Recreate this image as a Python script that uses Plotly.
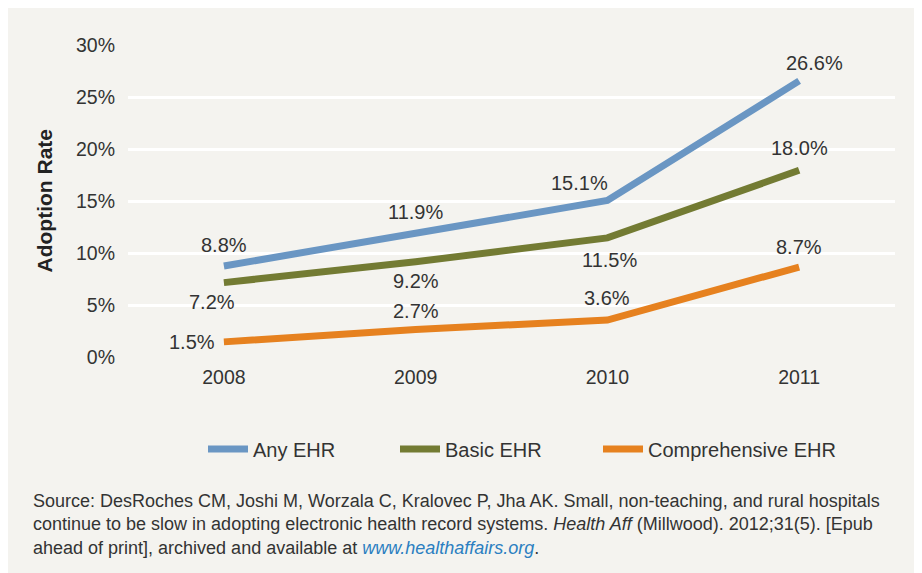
import plotly.graph_objects as go

years = ["2008", "2009", "2010", "2011"]
any_ehr = [8.8, 11.9, 15.1, 26.6]
basic_ehr = [7.2, 9.2, 11.5, 18.0]
comp_ehr = [1.5, 2.7, 3.6, 8.7]
series_names = ["Any EHR", "Basic EHR", "Comprehensive EHR"]
y_ticks = [0, 5, 10, 15, 20, 25, 30]
y_tick_labels = ["0%", "5%", "10%", "15%", "20%", "25%", "30%"]

colors = ["#6a96c3", "#737b33", "#e6811f"]
# label offsets (dx, dy) in px for each series/point (dy positive = down)
offsets = [
    [(0, -21), (0, -22), (-28, -17), (15, -18)],
    [(-12, 19), (0, 19), (2, 22), (0, -22)],
    [(-32, 0), (0, -18), (0, -22), (0, -20)],
]
legend_left = [208, 400, 603]  # reference px of legend symbols

# page body has an 8px margin; figure is drawn from (8, 8)
W, H = 914, 565
L, R, T, B = 120, 27, 37, 215
FONT = "Liberation Sans, Arial, sans-serif"
pw = W - L - R
ph = H - T - B


def py(ref_y):
    """reference pixel y -> paper y"""
    return (H - B - (ref_y - 8)) / ph


def px(ref_x):
    return ((ref_x - 8) - L) / pw


fig = go.Figure()
legend_ids = ["legend", "legend2", "legend3"]
for name, vals, col, lid in zip(series_names, [any_ehr, basic_ehr, comp_ehr], colors, legend_ids):
    fig.add_trace(go.Scatter(x=years, y=vals, name=name, mode="lines", legend=lid,
                             line=dict(color=col, width=7), hoverinfo="skip"))

annotations = []
for vals, offs in zip([any_ehr, basic_ehr, comp_ehr], offsets):
    for i, (v, (dx, dy)) in enumerate(zip(vals, offs)):
        annotations.append(dict(x=i, y=v, xref="x", yref="y", text=f"{v:.1f}%",
                                showarrow=False, xshift=dx, yshift=-dy,
                                font=dict(size=20, color="#333333", family=FONT)))

source = ("Source: DesRoches CM, Joshi M, Worzala C, Kralovec P, Jha AK. Small, non-teaching, and rural hospitals<br>"
          "continue to be slow in adopting electronic health record systems. <i>Health Aff</i> (Millwood). 2012;31(5). [Epub<br>"
          "ahead of print], archived and available at <i><span style='color:#2b7fc1'>www.healthaffairs.org</span></i>.")
annotations.append(dict(x=px(31), y=py(489), xref="paper", yref="paper",
                        xanchor="left", yanchor="top", align="left", showarrow=False,
                        text=source, font=dict(size=18, color="#333333", family=FONT)))
annotations.append(dict(x=px(44), y=0.5, xref="paper", yref="paper", textangle=-90,
                        xanchor="center", yanchor="middle",
                        showarrow=False, text="<b>Adoption Rate</b>",
                        font=dict(size=21, color="#222222", family=FONT)))

legend_common = dict(orientation="h", xanchor="left", y=py(449), yanchor="middle",
                     font=dict(size=20, color="#333333"), bgcolor="rgba(0,0,0,0)",
                     itemwidth=40)

fig.update_layout(
    width=W, height=H,
    margin=dict(l=L, r=R, t=T, b=B),
    paper_bgcolor="#f4f3ef", plot_bgcolor="#f4f3ef",
    font=dict(family=FONT, color="#333333", size=19),
    xaxis=dict(type="category", range=[-0.5, 3.5], showgrid=False, zeroline=False,
               showline=False, ticks="", tickfont=dict(size=19.5), ticklabelstandoff=5),
    yaxis=dict(range=[-0.05, 30.05], tickvals=y_ticks, ticktext=y_tick_labels,
               showgrid=True, gridcolor="#ffffff", gridwidth=3, zeroline=False,
               showline=False, ticks="", tickfont=dict(size=19.5), ticklabelstandoff=12),
    showlegend=True,
    legend=dict(x=px(legend_left[0] - 5), **legend_common),
    legend2=dict(x=px(legend_left[1] - 5), **legend_common),
    legend3=dict(x=px(legend_left[2] - 5), **legend_common),
    annotations=annotations,
)

fig.write_html("out.html")
